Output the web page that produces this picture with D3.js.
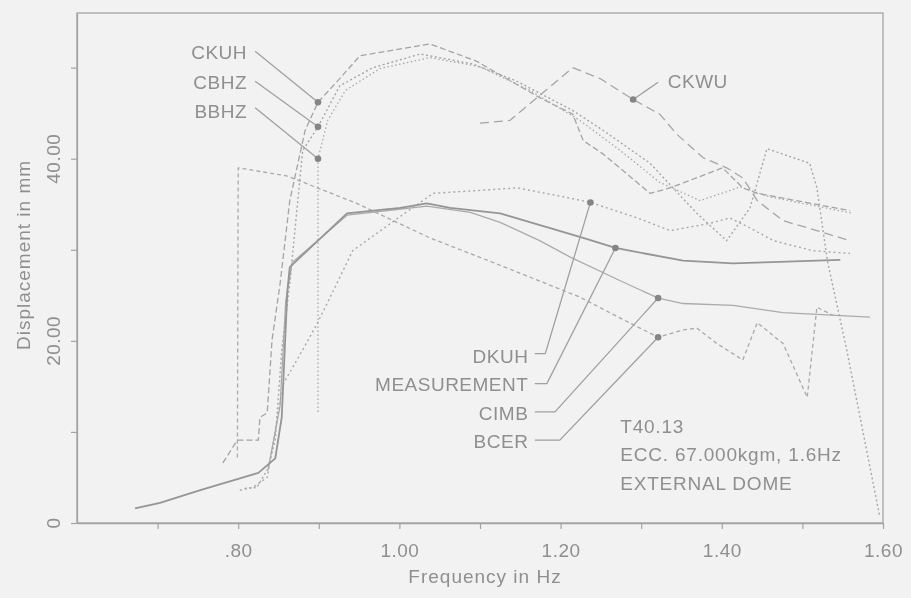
<!DOCTYPE html>
<html>
<head>
<meta charset="utf-8">
<script src="https://cdn.jsdelivr.net/npm/d3@7/dist/d3.min.js"></script>
<style>
    body { margin: 0; background: #f2f2f2; }
    svg { display: block; font-family: "Liberation Sans", Arial, sans-serif; }
</style>
</head>
<body>
<script>
// values: [frequency Hz, displacement mm]
const measurement = [[0.672,1.6],[0.703,2.2],[0.753,3.6],[0.825,5.5],[0.846,7.1],[0.854,11.6],[0.861,25.5],[0.864,28.1],[0.935,34.0],[1.001,34.6],[1.034,35.1],[1.063,34.6],[1.125,34.0],[1.228,31.3],[1.268,30.2],[1.352,28.8],[1.414,28.5],[1.547,28.9]];
const cimb = [[0.837,5.8],[0.852,12.9],[0.859,24.4],[0.867,28.6],[0.935,33.8],[1.034,34.8],[1.088,34.1],[1.125,33.0],[1.174,31.0],[1.212,29.2],[1.274,26.6],[1.321,24.7],[1.352,24.1],[1.414,23.9],[1.476,23.1],[1.584,22.6]];
const bcer = [[0.799,7.2],[0.800,39.0],[0.861,38.1],[0.947,35.1],[1.038,31.3],[1.125,28.3],[1.224,24.8],[1.274,22.5],[1.321,20.4],[1.352,21.2],[1.369,21.4],[1.394,19.7],[1.426,17.9],[1.444,22.0],[1.476,19.7],[1.506,13.8],[1.518,23.7],[1.538,22.8]];
const dkuh = [[0.802,3.6],[0.818,3.9],[0.836,5.0],[0.856,15.3],[0.880,19.0],[0.898,21.9],[0.918,25.5],[0.942,29.9],[0.997,33.4],[1.042,36.2],[1.096,36.5],[1.146,36.8],[1.199,35.9],[1.237,35.2],[1.295,33.5],[1.336,32.1],[1.385,32.9],[1.410,33.5],[1.435,32.4],[1.464,31.0],[1.513,29.9],[1.559,29.6]];
const ckwu = [[1.100,43.9],[1.137,44.2],[1.215,50.0],[1.249,48.8],[1.290,46.5],[1.323,44.9],[1.344,42.7],[1.377,40.1],[1.406,39.0],[1.426,37.9],[1.444,35.4],[1.476,33.2],[1.518,32.1],[1.559,31.0]];
const ckuh = [[0.781,6.6],[0.799,9.1],[0.825,9.1],[0.827,11.6],[0.836,12.1],[0.842,20.1],[0.852,26.3],[0.864,35.4],[0.883,43.1],[0.899,46.2],[0.926,48.8],[0.951,51.3],[1.038,52.6],[1.096,50.7],[1.174,46.7],[1.215,44.9],[1.228,42.0],[1.253,40.5],[1.311,36.2],[1.336,36.8],[1.401,39.0],[1.426,36.8],[1.444,36.2],[1.559,34.3]];
const cbhz = [[0.808,3.8],[0.823,3.9],[0.836,5.8],[0.846,9.1],[0.854,19.0],[0.864,26.3],[0.880,40.9],[0.899,43.5],[0.926,48.0],[0.967,50.0],[1.026,51.5],[1.091,50.4],[1.146,48.5],[1.215,45.3],[1.253,43.1],[1.311,39.5],[1.369,34.0],[1.406,31.0],[1.435,34.6],[1.456,41.1],[1.509,39.5],[1.518,36.8],[1.531,28.8],[1.555,19.0],[1.596,0.7]];
const bbhz = [[0.899,12.2],[0.899,40.0],[0.911,44.2],[0.933,47.5],[0.976,49.9],[1.038,51.1],[1.100,50.1],[1.162,47.5],[1.224,44.2],[1.274,40.9],[1.323,37.4],[1.373,35.4],[1.423,36.9],[1.460,35.8],[1.563,34.0]];

// labelled points on each curve
const markers = {
    CKUH: [0.899, 46.2], CBHZ: [0.899, 43.5], BBHZ: [0.899, 40.0], CKWU: [1.290, 46.5],
    DKUH: [1.237, 35.2], MEASUREMENT: [1.268, 30.2], CIMB: [1.321, 24.7], BCER: [1.321, 20.4]
};

// axis ticks
const xTicks = [0.7, 0.8, 0.9, 1.0, 1.1, 1.2, 1.3, 1.4, 1.5, 1.6];
const xTickLabels = ["", ".80", "", "1.00", "", "1.20", "", "1.40", "", "1.60"];
const yTicks = [0, 10, 20, 30, 40, 50];
const yTickLabels = ["0", "", "20.00", "", "40.00", ""];
const noteLines = ["T40.13", "ECC. 67.000kgm, 1.6Hz", "EXTERNAL DOME"];

const svgWidth = 911;
const svgHeight = 598;
const plot = { left: 77, right: 883, top: 13, bottom: 523 };
const textColor = "#8f8f8f";
const fontSize = 19;

let svg = d3.select("body")
    .append("svg")
    .attr("width", svgWidth)
    .attr("height", svgHeight);

svg.append("rect").attr("width", svgWidth).attr("height", svgHeight).attr("fill", "#f2f2f2");

//scan softening
svg.append("defs").append("filter").attr("id", "soft")
    .append("feGaussianBlur").attr("stdDeviation", 0.45);

let chart = svg.append("g").attr("filter", "url(#soft)");

//scales
let xScale = d3.scaleLinear().domain([0.6, 1.6]).range([plot.left, plot.right]);
let yScale = d3.scaleLinear().domain([0, 56]).range([plot.bottom, plot.top]);

//frame
chart.append("rect")
    .attr("x", plot.left).attr("y", plot.top)
    .attr("width", plot.right - plot.left).attr("height", plot.bottom - plot.top)
    .attr("fill", "none").attr("stroke", "#a3a3a3").attr("stroke-width", 1.3);

//x axis
let xAxis = d3.axisBottom(xScale).tickValues(xTicks).tickSize(6).tickSizeOuter(0)
    .tickFormat((d, i) => xTickLabels[i]);
let gx = chart.append("g").attr("transform", `translate(0, ${plot.bottom})`).call(xAxis);
gx.select(".domain").attr("stroke", "#a3a3a3").attr("stroke-width", 1.3);
gx.selectAll(".tick line").attr("stroke", "#a3a3a3").attr("stroke-width", 1.2);
gx.selectAll(".tick text")
    .attr("y", 34).attr("dy", 0)
    .attr("fill", textColor).attr("font-size", fontSize).attr("letter-spacing", 0.5)
    .attr("font-family", "Liberation Sans, Arial, sans-serif");

//y axis
let yAxis = d3.axisLeft(yScale).tickValues(yTicks).tickSize(6).tickSizeOuter(0).tickFormat("");
let gy = chart.append("g").attr("transform", `translate(${plot.left}, 0)`).call(yAxis);
gy.select(".domain").attr("stroke", "#a3a3a3").attr("stroke-width", 1.3);
gy.selectAll(".tick line").attr("stroke", "#a3a3a3").attr("stroke-width", 1.2);

chart.selectAll(".ylabel")
    .data(yTicks.filter((d, i) => yTickLabels[i] !== ""))
    .enter()
    .append("text")
    .attr("class", "ylabel")
    .attr("transform", d => `translate(60, ${yScale(d)}) rotate(-90)`)
    .attr("text-anchor", "middle")
    .attr("fill", textColor).attr("font-size", fontSize).attr("letter-spacing", 0.5)
    .text(d => yTickLabels[yTicks.indexOf(d)]);

//axis titles
chart.append("text")
    .attr("x", 485).attr("y", 583)
    .attr("text-anchor", "middle")
    .attr("fill", textColor).attr("font-size", fontSize).attr("letter-spacing", 1)
    .text("Frequency in Hz");

chart.append("text")
    .attr("transform", "translate(30, 255) rotate(-90)")
    .attr("text-anchor", "middle")
    .attr("fill", textColor).attr("font-size", fontSize).attr("letter-spacing", 1)
    .text("Displacement in mm");

//curves
const series = [
    { name: "BCER", values: bcer, dash: "4,3", width: 1.3, color: "#a9a9a9" },
    { name: "CIMB", values: cimb, dash: null, width: 1.3, color: "#ababab" },
    { name: "DKUH", values: dkuh, dash: "2,3", width: 1.4, color: "#a8a8a8" },
    { name: "CKWU", values: ckwu, dash: "9,5", width: 1.3, color: "#a6a6a6" },
    { name: "CKUH", values: ckuh, dash: "6,3", width: 1.3, color: "#a4a4a4" },
    { name: "CBHZ", values: cbhz, dash: "2,2.5", width: 1.4, color: "#a6a6a6" },
    { name: "BBHZ", values: bbhz, dash: "1.5,2.5", width: 1.3, color: "#a8a8a8" },
    { name: "MEASUREMENT", values: measurement, dash: null, width: 1.8, color: "#959595" }
];

let line = d3.line().x(d => xScale(d[0])).y(d => yScale(d[1]));

chart.selectAll(".curve")
    .data(series)
    .enter()
    .append("path")
    .attr("class", "curve")
    .attr("d", d => line(d.values))
    .attr("fill", "none")
    .attr("stroke", d => d.color)
    .attr("stroke-width", d => d.width)
    .attr("stroke-dasharray", d => d.dash)
    .attr("stroke-linejoin", "round");

//labels and leaders (anchors in data units)
const labelLayout = [
    { name: "CKUH", text: [0.811, 51.0], anchor: "end", leader: [[0.821, 51.8]] },
    { name: "CBHZ", text: [0.811, 47.7], anchor: "end", leader: [[0.821, 48.5]] },
    { name: "BBHZ", text: [0.811, 44.5], anchor: "end", leader: [[0.821, 45.6]] },
    { name: "CKWU", text: [1.333, 47.8], anchor: "start", leader: [[1.321, 48.4]] },
    { name: "DKUH", text: [1.160, 17.6], anchor: "end", leader: [[1.168, 18.6], [1.181, 18.6]] },
    { name: "MEASUREMENT", text: [1.160, 14.5], anchor: "end", leader: [[1.168, 15.3], [1.183, 15.3]] },
    { name: "CIMB", text: [1.160, 11.3], anchor: "end", leader: [[1.168, 12.2], [1.193, 12.2]] },
    { name: "BCER", text: [1.160, 8.2], anchor: "end", leader: [[1.168, 9.1], [1.199, 9.1]] }
];

chart.selectAll(".leader")
    .data(labelLayout)
    .enter()
    .append("path")
    .attr("class", "leader")
    .attr("d", d => line(d.leader.concat([markers[d.name]])))
    .attr("fill", "none")
    .attr("stroke", "#a0a0a0")
    .attr("stroke-width", 1.3);

chart.selectAll(".dot")
    .data(labelLayout)
    .enter()
    .append("circle")
    .attr("class", "dot")
    .attr("cx", d => xScale(markers[d.name][0]))
    .attr("cy", d => yScale(markers[d.name][1]))
    .attr("r", 3.3)
    .attr("fill", "#858585");

chart.selectAll(".label")
    .data(labelLayout)
    .enter()
    .append("text")
    .attr("class", "label")
    .attr("x", d => xScale(d.text[0]))
    .attr("y", d => yScale(d.text[1]))
    .attr("text-anchor", d => d.anchor)
    .attr("fill", textColor).attr("font-size", fontSize).attr("letter-spacing", 0.5)
    .text(d => d.name);

//test note
chart.selectAll(".note")
    .data(noteLines)
    .enter()
    .append("text")
    .attr("class", "note")
    .attr("x", xScale(1.274))
    .attr("y", (d, i) => yScale(9.9) + i * 28.5)
    .attr("fill", textColor).attr("font-size", fontSize).attr("letter-spacing", 0.8)
    .text(d => d);
</script>
</body>
</html>
